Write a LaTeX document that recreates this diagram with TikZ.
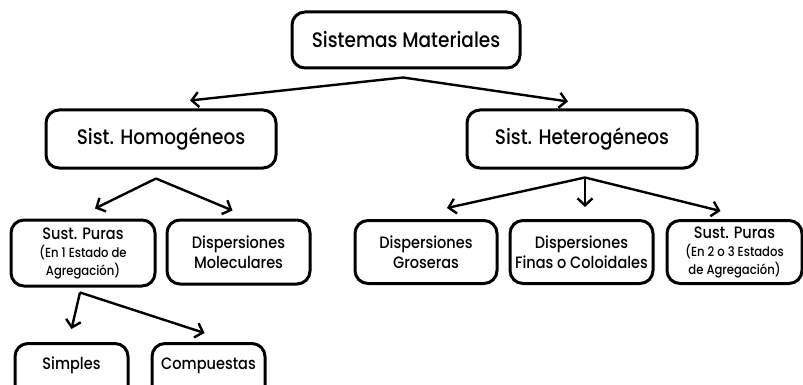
\documentclass[tikz,border=0pt]{standalone}
\usepackage{fontspec}
\setmainfont{Poppins}[UprightFont={* Medium},FakeStretch=0.88]
\usetikzlibrary{arrows.meta,calc}
\begin{document}
\begin{tikzpicture}[x=1pt,y=-1pt,
  box/.style={draw,line width=3pt,rounded corners=13pt,align=center,inner sep=0pt,text=black},
  arr/.style={line width=2.4pt,-{Straight Barb[length=7pt,width=15pt,line width=2.4pt]}},
  big/.style={font=\fontsize{21}{24}\selectfont},
  mid/.style={font=\fontsize{16.5}{20}\selectfont},
  small/.style={font=\fontsize{13.2}{17.5}\selectfont},
  cutbox/.style={box,mid,minimum width=113pt,text height=26pt,text depth=30pt,anchor=north},
]
\useasboundingbox (0,0) rectangle (803,385);
\clip (0,0) rectangle (803,385);
\node[box,big,minimum width=228pt,minimum height=56pt] (top) at (406,40) {Sistemas Materiales};
\node[box,big,minimum width=230pt,minimum height=58pt] (homo) at (161,139) {Sist. Homogéneos};
\node[box,big,minimum width=230pt,minimum height=58pt] (hetero) at (582,139) {Sist. Heterogéneos};
\node[box,small,minimum width=144pt,minimum height=66pt] (puras1) at (83,253) {{\fontsize{16.5}{18}\selectfont Sust. Puras}\\[1pt](En 1 Estado de\\Agregación)};
\node[box,mid,minimum width=143pt,minimum height=64pt] (molec) at (238.5,252) {Dispersiones\\Moleculares};
\node[box,mid,minimum width=142pt,minimum height=63pt] (gros) at (426,252) {Dispersiones\\Groseras};
\node[box,mid,minimum width=143pt,minimum height=63pt] (finas) at (581.5,252) {Dispersiones\\Finas o Coloidales};
\node[box,small,minimum width=135pt,minimum height=63pt] (puras2) at (734.5,252) {{\fontsize{16.5}{18}\selectfont Sust. Puras}\\[1pt](En 2 o 3 Estados\\de Agregación)};
\node[cutbox] (simp) at (71.5,342) {Simples};
\node[cutbox] (comp) at (208.5,342) {Compuestas};
% apex points
\coordinate (a) at ($(top.south)+(-3,8)$);
\coordinate (b) at ($(homo.south)+(-5,9)$);
\coordinate (c) at ($(hetero.south)+(3,8)$);
\coordinate (d) at ($(puras1.south)+(-3,5)$);
\draw[arr] (a) -- ($(homo.north)+(29,-8)$);
\draw[arr] (a) -- ($(hetero.north)+(-14,-7)$);
\draw[arr] (b) -- ($(puras1.north)+(12,-10)$);
\draw[arr] (b) -- ($(molec.north)+(-6,-8)$);
\draw[arr] (c) -- ($(gros.north)+(21,-11)$);
\draw[arr] (c) -- ($(finas.north)+(3.5,-12)$);
\draw[arr] (c) -- ($(puras2.north)+(-14,-8)$);
\draw[arr] (d) -- ($(simp.north)+(0,-13)$);
\draw[arr] (d) -- ($(comp.north)+(-4,-9)$);
\end{tikzpicture}
\end{document}
